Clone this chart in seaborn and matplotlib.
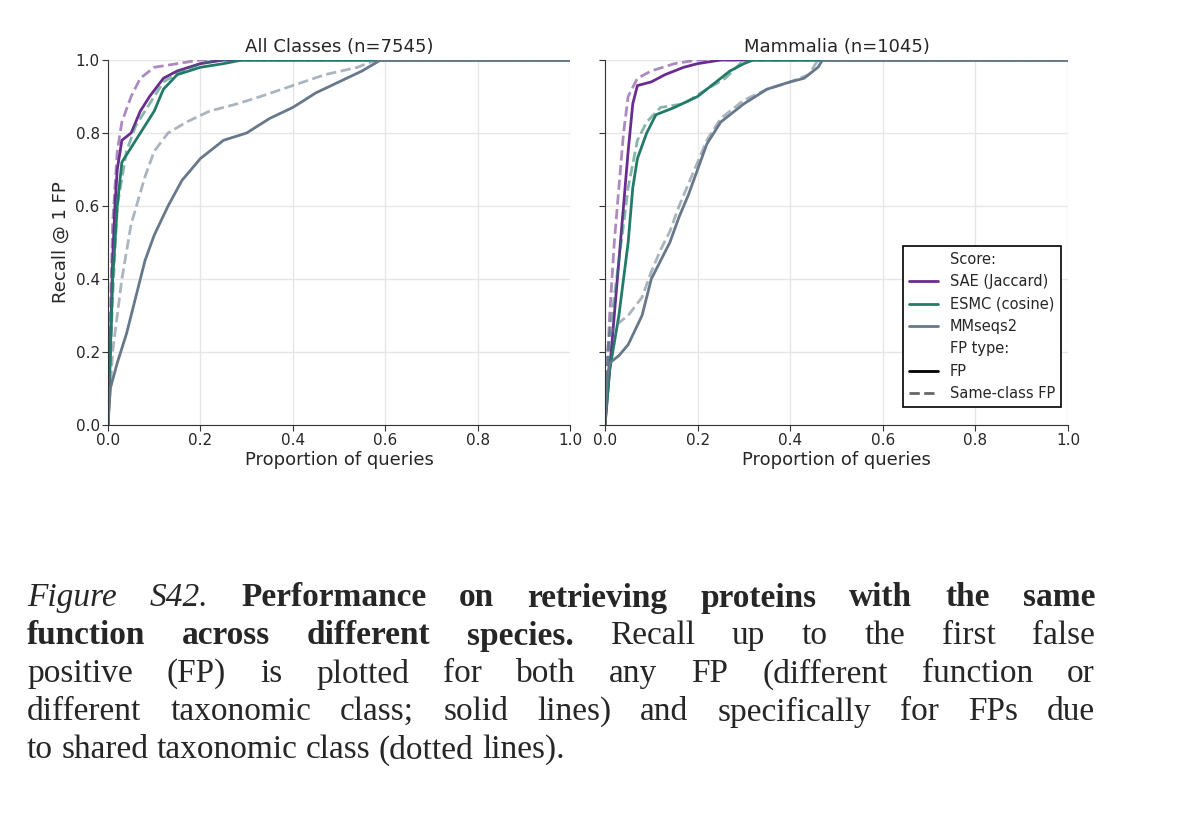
import matplotlib
matplotlib.use("Agg")
import matplotlib.pyplot as plt
import seaborn as sns
from matplotlib.lines import Line2D

# ---- data ----
all_sae_x = [0, 0.005, 0.01, 0.015, 0.02, 0.03, 0.05, 0.07, 0.09, 0.12, 0.15, 0.2, 0.25, 1.0]
all_sae_y = [0, 0.2, 0.45, 0.6, 0.7, 0.78, 0.8, 0.86, 0.9, 0.95, 0.97, 0.99, 1.0, 1.0]
all_sae_d_x = [0, 0.005, 0.01, 0.02, 0.03, 0.05, 0.07, 0.1, 0.15, 0.2, 1.0]
all_sae_d_y = [0, 0.3, 0.55, 0.75, 0.83, 0.9, 0.95, 0.98, 0.99, 1.0, 1.0]
all_esm_x = [0, 0.005, 0.01, 0.02, 0.03, 0.05, 0.07, 0.1, 0.12, 0.15, 0.2, 0.25, 0.29, 1.0]
all_esm_y = [0, 0.2, 0.4, 0.6, 0.72, 0.76, 0.8, 0.86, 0.92, 0.96, 0.98, 0.99, 1.0, 1.0]
all_esm_d_x = [0, 0.01, 0.02, 0.04, 0.06, 0.09, 0.12, 0.16, 0.2, 0.24, 1.0]
all_esm_d_y = [0, 0.35, 0.6, 0.75, 0.82, 0.88, 0.94, 0.97, 0.99, 1.0, 1.0]
all_mm_x = [0, 0.005, 0.02, 0.04, 0.06, 0.08, 0.1, 0.13, 0.16, 0.2, 0.25, 0.3, 0.35, 0.4, 0.45, 0.5, 0.55, 0.59, 1.0]
all_mm_y = [0, 0.1, 0.17, 0.25, 0.35, 0.45, 0.52, 0.6, 0.67, 0.73, 0.78, 0.8, 0.84, 0.87, 0.91, 0.94, 0.97, 1.0, 1.0]
all_mm_d_x = [0, 0.01, 0.03, 0.05, 0.08, 0.1, 0.13, 0.17, 0.22, 0.28, 0.33, 0.4, 0.47, 0.54, 0.58, 1.0]
all_mm_d_y = [0, 0.2, 0.4, 0.55, 0.68, 0.75, 0.8, 0.83, 0.86, 0.88, 0.9, 0.93, 0.96, 0.98, 1.0, 1.0]

mam_sae_x = [0, 0.01, 0.02, 0.03, 0.04, 0.05, 0.06, 0.07, 0.1, 0.13, 0.17, 0.2, 0.25, 1.0]
mam_sae_y = [0, 0.15, 0.3, 0.45, 0.6, 0.75, 0.88, 0.93, 0.94, 0.96, 0.98, 0.99, 1.0, 1.0]
mam_sae_d_x = [0, 0.01, 0.02, 0.03, 0.04, 0.05, 0.07, 0.1, 0.15, 0.2, 1.0]
mam_sae_d_y = [0, 0.3, 0.5, 0.65, 0.8, 0.9, 0.95, 0.97, 0.99, 1.0, 1.0]
mam_esm_x = [0, 0.01, 0.03, 0.05, 0.06, 0.07, 0.09, 0.11, 0.15, 0.2, 0.24, 0.27, 0.3, 0.32, 1.0]
mam_esm_y = [0, 0.15, 0.3, 0.5, 0.65, 0.73, 0.8, 0.85, 0.87, 0.9, 0.94, 0.97, 0.99, 1.0, 1.0]
mam_esm_d_x = [0, 0.01, 0.03, 0.05, 0.07, 0.09, 0.12, 0.17, 0.22, 0.26, 0.3, 1.0]
mam_esm_d_y = [0, 0.25, 0.45, 0.65, 0.78, 0.83, 0.87, 0.88, 0.92, 0.95, 1.0, 1.0]
mam_mm_x = [0, 0.005, 0.01, 0.03, 0.05, 0.08, 0.1, 0.12, 0.14, 0.16, 0.18, 0.2, 0.22, 0.25, 0.3, 0.35, 0.4, 0.43, 0.46, 0.47, 1.0]
mam_mm_y = [0, 0.13, 0.17, 0.19, 0.22, 0.3, 0.4, 0.45, 0.5, 0.57, 0.63, 0.7, 0.77, 0.83, 0.88, 0.92, 0.94, 0.95, 0.98, 1.0, 1.0]
mam_mm_d_x = [0, 0.005, 0.01, 0.03, 0.05, 0.08, 0.1, 0.12, 0.14, 0.16, 0.18, 0.2, 0.22, 0.25, 0.3, 0.35, 0.4, 0.44, 0.46, 1.0]
mam_mm_d_y = [0, 0.2, 0.25, 0.28, 0.3, 0.35, 0.42, 0.48, 0.53, 0.6, 0.66, 0.72, 0.78, 0.84, 0.89, 0.92, 0.94, 0.96, 1.0, 1.0]

colors = {"SAE (Jaccard)": "#6a2c8e", "ESMC (cosine)": "#237a68", "MMseqs2": "#66788a"}

panels = [
    ("All Classes (n=7545)", [
        ("SAE (Jaccard)", all_sae_x, all_sae_y, all_sae_d_x, all_sae_d_y),
        ("ESMC (cosine)", all_esm_x, all_esm_y, all_esm_d_x, all_esm_d_y),
        ("MMseqs2", all_mm_x, all_mm_y, all_mm_d_x, all_mm_d_y)]),
    ("Mammalia (n=1045)", [
        ("SAE (Jaccard)", mam_sae_x, mam_sae_y, mam_sae_d_x, mam_sae_d_y),
        ("ESMC (cosine)", mam_esm_x, mam_esm_y, mam_esm_d_x, mam_esm_d_y),
        ("MMseqs2", mam_mm_x, mam_mm_y, mam_mm_d_x, mam_mm_d_y)]),
]

sns.set_style("whitegrid")
plt.rcParams["font.family"] = ["DejaVu Sans"]

fig = plt.figure(figsize=(12, 8.33), dpi=100)
W, H = 1200, 833
axes = [fig.add_axes([108 / W, 1 - 425 / H, 462 / W, 365 / H]),
        fig.add_axes([605 / W, 1 - 425 / H, 463 / W, 365 / H])]

for i, (ax, (title, series)) in enumerate(zip(axes, panels)):
    for name, xs, ys, dx, dy in series:
        c = colors[name]
        sns.lineplot(x=dx, y=dy, ax=ax, color=c, alpha=0.55, linestyle="--",
                     linewidth=2, estimator=None)
        sns.lineplot(x=xs, y=ys, ax=ax, color=c, linewidth=2, estimator=None)
    ax.set_xlim(0, 1)
    ax.set_ylim(0, 1.0)
    ax.set_xticks([0, 0.2, 0.4, 0.6, 0.8, 1.0])
    ax.set_yticks([0, 0.2, 0.4, 0.6, 0.8, 1.0])
    ax.set_title(title, fontsize=13, pad=6)
    ax.set_xlabel("Proportion of queries", fontsize=13, labelpad=2)
    ax.grid(True, color="#e6e6e6", linewidth=1)
    for s in ["top", "right"]:
        ax.spines[s].set_visible(False)
    for s in ["left", "bottom"]:
        ax.spines[s].set_color("#333333")
    ax.tick_params(axis="both", labelsize=11, length=4, left=True, bottom=True,
                   color="#333333", pad=2)
    if i == 0:
        ax.set_ylabel("Recall @ 1 FP", fontsize=13)
    else:
        ax.set_yticklabels([])

blank = Line2D([], [], color="none")
handles = [blank,
           Line2D([], [], color=colors["SAE (Jaccard)"], lw=2),
           Line2D([], [], color=colors["ESMC (cosine)"], lw=2),
           Line2D([], [], color=colors["MMseqs2"], lw=2),
           blank,
           Line2D([], [], color="black", lw=2),
           Line2D([], [], color="#666666", lw=2, ls="--")]
labels = ["Score:", "SAE (Jaccard)", "ESMC (cosine)", "MMseqs2", "FP type:", "FP", "Same-class FP"]
leg = axes[1].legend(handles, labels, loc="lower right", bbox_to_anchor=(1.0, 0.03),
                     fontsize=10.5, frameon=True, fancybox=False, edgecolor="black",
                     framealpha=1)
leg.get_frame().set_linewidth(1.2)

# ---- caption, justified word by word ----
cap_lines = [
    [("Figure S42.", "italic"), ("Performance on retrieving proteins with the same", "bold")],
    [("function across different species.", "bold"), ("Recall up to the first false", "normal")],
    [("positive (FP) is plotted for both any FP (different function or", "normal")],
    [("different taxonomic class; solid lines) and specifically for FPs due", "normal")],
    [("to shared taxonomic class (dotted lines).", "normal")],
]
fig.canvas.draw()
renderer = fig.canvas.get_renderer()
x0, x1 = 27, 1095
y_px = [598, 636, 674, 712, 750]
fs = 24
for li, (segs, yp) in enumerate(zip(cap_lines, y_px)):
    words = []
    for text, style in segs:
        for w in text.split():
            words.append((w, style))
    arts = []
    for w, style in words:
        kw = dict(fontsize=fs, family=["Liberation Serif", "DejaVu Serif"], va="center")
        if style == "italic":
            kw["style"] = "italic"
        if style == "bold":
            kw["weight"] = "bold"
        t = fig.text(0, 1 - yp / H, w, **kw)
        arts.append(t)
    widths = [a.get_window_extent(renderer).width for a in arts]
    last = li == len(cap_lines) - 1
    if last:
        gap = fs * 100 / 72 * 0.25
    else:
        gap = (x1 - x0 - sum(widths)) / (len(arts) - 1)
    x = x0
    for a, w in zip(arts, widths):
        a.set_x(x / W)
        x += w + gap

fig.savefig("out.png", dpi=100)
